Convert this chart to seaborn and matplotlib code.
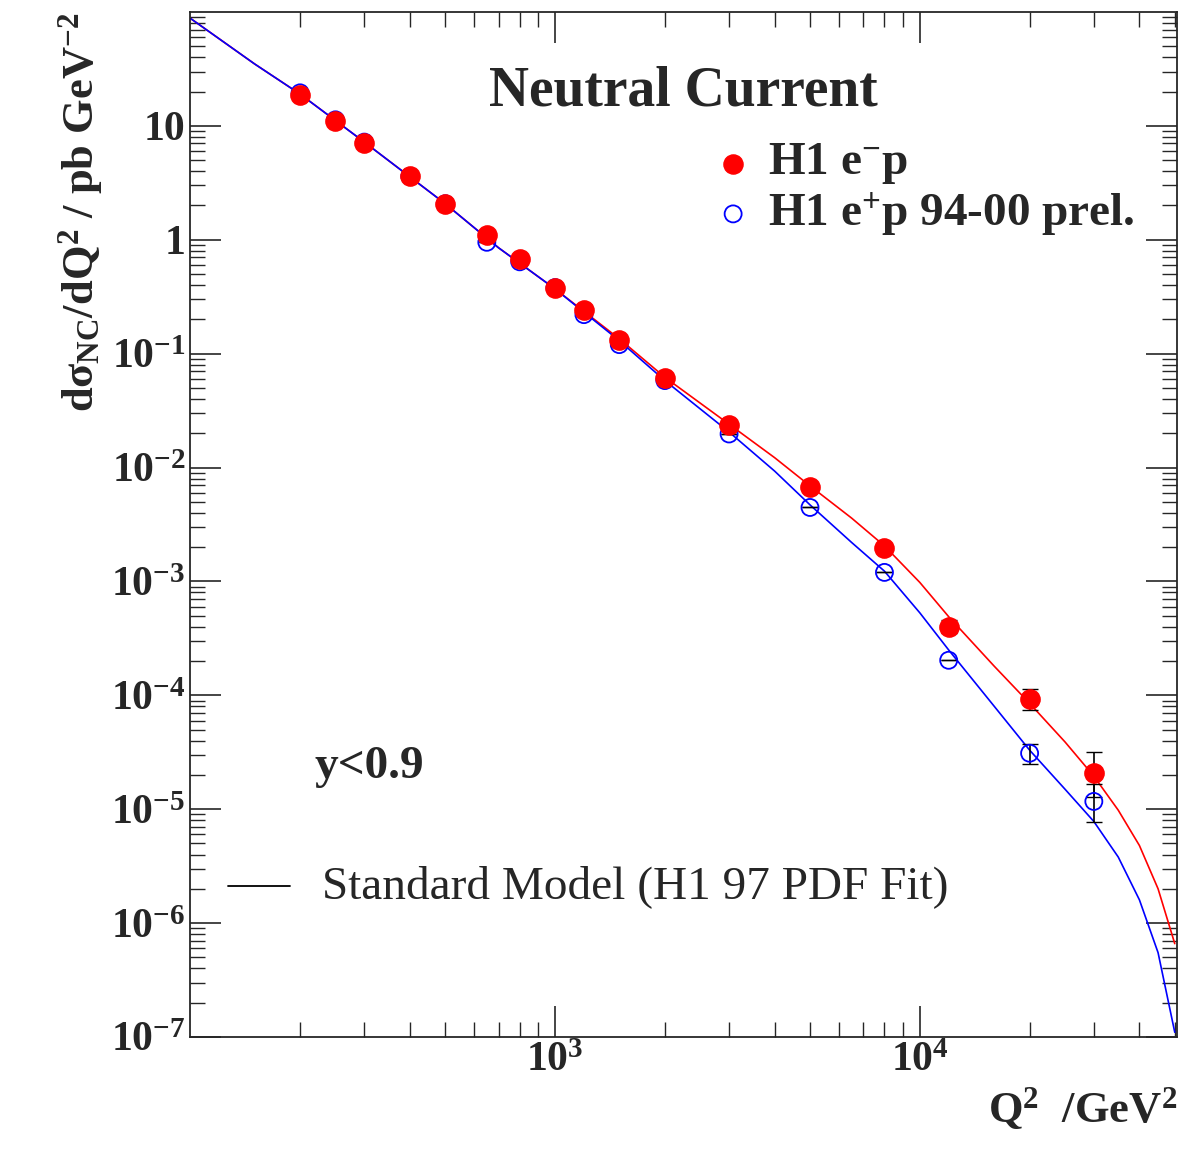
import numpy as np
import pandas as pd
import matplotlib
matplotlib.use("Agg")
import matplotlib.pyplot as plt
import seaborn as sns
from matplotlib.lines import Line2D
from matplotlib.ticker import LogLocator, NullFormatter

q2 = [200, 250, 300, 400, 500, 650, 800, 1000, 1200, 1500, 2000, 3000, 5000, 8000, 12000, 20000, 30000]
em_y = [18.7, 11.1, 7.1, 3.6, 2.07, 1.1, 0.68, 0.38, 0.243, 0.133, 0.0617, 0.0238, 0.0068, 0.00195, 4.0e-4, 9.2e-5, 2.07e-5]
em_lo = [0, 0, 0, 0, 0, 0, 0, 0, 0, 0, 0, 0, 0, 0, 0.5e-4, 1.8e-5, 0.8e-5]
em_hi = [0, 0, 0, 0, 0, 0, 0, 0, 0, 0, 0, 0, 0, 0, 0.6e-4, 2.2e-5, 1.1e-5]
ep_y = [19.5, 11.3, 7.2, 3.6, 2.07, 0.95, 0.64, 0.38, 0.22, 0.12, 0.058, 0.0197, 0.00446, 0.0012, 2.03e-4, 3.1e-5, 1.17e-5]
ep_lo = [0, 0, 0, 0, 0, 0, 0, 0, 0, 0, 0, 0, 0, 0, 0, 0.6e-5, 0.4e-5]
ep_hi = [0, 0, 0, 0, 0, 0, 0, 0, 0, 0, 0, 0, 0, 0, 0, 0.6e-5, 0.5e-5]

sm_q2 = [100, 150, 200, 300, 500, 700, 1000, 1500, 2000, 3000, 4000, 5000, 6500, 8000, 10000, 12000, 16000, 20000, 25000, 30000, 35000, 40000, 45000, 50000]
sm_em = [88, 35, 19, 7.2, 2.07, 0.85, 0.37, 0.135, 0.062, 0.024, 0.0122, 0.0069, 0.0036, 0.00205, 9.8e-4, 4.9e-4, 1.8e-4, 8.5e-5, 3.9e-5, 1.95e-5, 9.8e-6, 4.8e-6, 2.0e-6, 6.6e-7]
sm_ep = [88, 35, 19, 7.2, 2.07, 0.85, 0.37, 0.13, 0.058, 0.0205, 0.0093, 0.0047, 0.0022, 0.00123, 5.3e-4, 2.5e-4, 8.0e-5, 3.3e-5, 1.5e-5, 7.8e-6, 3.8e-6, 1.6e-6, 5.5e-7, 1.1e-7]

ytick_vals = [10, 1, 1e-1, 1e-2, 1e-3, 1e-4, 1e-5, 1e-6, 1e-7]
ytick_labels = ["10", "1", "$10^{-1}$", "$10^{-2}$", "$10^{-3}$", "$10^{-4}$", "$10^{-5}$", "$10^{-6}$", "$10^{-7}$"]
xtick_vals = [1e3, 1e4]
xtick_labels = ["$10^{3}$", "$10^{4}$"]

sns.set_style("ticks")
plt.rcParams['font.family'] = ['Liberation Serif', 'DejaVu Serif']
plt.rcParams['font.weight'] = 'bold'
plt.rcParams['mathtext.fontset'] = 'custom'
plt.rcParams['mathtext.rm'] = 'Liberation Serif:bold'
plt.rcParams['mathtext.it'] = 'Liberation Serif:bold'
plt.rcParams['mathtext.bf'] = 'Liberation Serif:bold'

fig = plt.figure(figsize=(11.82, 11.62), dpi=100)
ax = fig.add_axes([0.161, 0.1076, 0.835, 0.8821])

sns.lineplot(x=sm_q2, y=sm_em, ax=ax, color="red", lw=1.2, estimator=None, sort=False)
sns.lineplot(x=sm_q2, y=sm_ep, ax=ax, color="blue", lw=1.2, estimator=None, sort=False)

ax.errorbar(q2, ep_y, yerr=[ep_lo, ep_hi], fmt='none', ecolor='black', elinewidth=1.2, capsize=6)
ax.errorbar(q2, em_y, yerr=[em_lo, em_hi], fmt='none', ecolor='black', elinewidth=1.2, capsize=6)
sns.scatterplot(x=q2, y=ep_y, ax=ax, marker='o', s=150, facecolor='none', edgecolor='blue', linewidth=1.3, zorder=5)
sns.scatterplot(x=q2, y=em_y, ax=ax, marker='o', s=190, color='red', edgecolor='red', zorder=6)

ax.set_xscale('log'); ax.set_yscale('log')
ax.set_xlim(100, 50800); ax.set_ylim(1e-7, 100)
ax.yaxis.set_minor_locator(LogLocator(base=10, subs=np.arange(2, 10), numticks=30))
ax.yaxis.set_minor_formatter(NullFormatter())
ax.xaxis.set_minor_formatter(NullFormatter())
ax.set_yticks(ytick_vals); ax.set_yticklabels(ytick_labels, fontsize=30)
ax.set_xticks(xtick_vals); ax.set_xticklabels(xtick_labels, fontsize=30)
ax.tick_params(which='both', direction='in', top=True, right=True)
ax.tick_params(which='major', length=22, width=1.2)
ax.tick_params(which='minor', length=11, width=1)
for s in ax.spines.values():
    s.set_linewidth(1.3)

ax.set_ylabel(r"d$\sigma_{\rm NC}$/dQ$^{2}$ / pb GeV$^{-2}$", fontsize=32, loc='top', fontweight='bold')
ax.set_xlabel(r"Q$^{2}$  /GeV$^{2}$", fontsize=32, loc='right', fontweight='bold')

ax.text(0.5, 0.922, "Neutral Current", transform=ax.transAxes, fontsize=40, ha='center', va='center')
ax.scatter([0.55], [0.852], transform=ax.transAxes, s=190, color='red', clip_on=False)
ax.scatter([0.55], [0.803], transform=ax.transAxes, s=150, facecolor='none', edgecolor='blue', linewidth=1.3, clip_on=False)
ax.text(0.585, 0.852, r"H1 e$^{-}$p", transform=ax.transAxes, fontsize=34, va='center')
ax.text(0.585, 0.803, r"H1 e$^{+}$p 94-00 prel.", transform=ax.transAxes, fontsize=34, va='center')
ax.text(0.126, 0.263, "y<0.9", transform=ax.transAxes, fontsize=34, va='center')
ax.add_line(Line2D([0.038, 0.101], [0.147, 0.147], transform=ax.transAxes, color='black', lw=1.3))
ax.text(0.133, 0.147, "Standard Model (H1 97 PDF Fit)", transform=ax.transAxes, fontsize=34, va='center', fontweight='normal')

fig.savefig("out.png", dpi=100)
